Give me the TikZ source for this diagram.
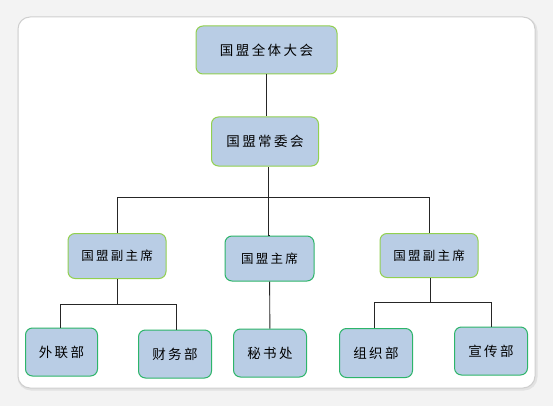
\documentclass[tikz,border=0pt]{standalone}
\usepackage{fontspec}
\newfontfamily\cjk[LetterSpace=18]{Noto Sans CJK SC}
\definecolor{boxfill}{HTML}{B9CDE5}
\definecolor{lightgreen}{HTML}{92D050}
\definecolor{darkgreen}{HTML}{2DB56A}
\definecolor{framegray}{HTML}{CFCFCF}
\definecolor{bggray}{HTML}{F3F3F3}
\tikzset{
  orgbox/.style={draw=#1, fill=boxfill, line width=1pt, rounded corners=7pt,
    inner sep=0pt, align=center, font=\cjk\fontsize{13.5}{15}\selectfont},
  link/.style={draw=black!85, line width=0.9pt},
}
\begin{document}
\begin{tikzpicture}[x=1pt,y=-1pt]
\useasboundingbox (0,0) rectangle (553,406);
\fill[bggray] (0,0) rectangle (553,406);
\draw[framegray!60, line width=3pt, rounded corners=12pt] (19,19) rectangle (536,389);
\draw[framegray, fill=white, line width=1pt, rounded corners=12pt] (18,17) rectangle (535,388);

\node[orgbox=lightgreen, minimum width=141pt, minimum height=48pt] (all) at (266.5,50) {国盟全体大会};
\node[orgbox=lightgreen, minimum width=107pt, minimum height=49pt] (standing) at (265,141.5) {国盟常委会};
\node[orgbox=lightgreen, minimum width=98pt, minimum height=45pt, font=\cjk\fontsize{12.5}{14}\selectfont] (vl) at (117,256) {国盟副主席};
\node[orgbox=darkgreen, minimum width=89pt, minimum height=45pt, font=\cjk\fontsize{12.5}{14}\selectfont] (chair) at (269.5,258.5) {国盟主席};
\node[orgbox=lightgreen, minimum width=98pt, minimum height=44pt, font=\cjk\fontsize{12.5}{14}\selectfont] (vr) at (429,255.5) {国盟副主席};

\node[orgbox=darkgreen, minimum width=72pt, minimum height=48pt] (wl) at (61.5,352) {外联部};
\node[orgbox=darkgreen, minimum width=73pt, minimum height=48pt] (cw) at (175,354) {财务部};
\node[orgbox=darkgreen, minimum width=73pt, minimum height=48pt] (ms) at (270,353) {秘书处};
\node[orgbox=darkgreen, minimum width=73pt, minimum height=49pt] (zz) at (376,353) {组织部};
\node[orgbox=darkgreen, minimum width=73pt, minimum height=48pt] (xc) at (491,351) {宣传部};

\coordinate (busL) at (117,197);
\coordinate (busR) at (429,197);
\coordinate (subL1) at (60,304);
\coordinate (subL2) at (176.5,304);
\coordinate (subR1) at (374.5,302);
\coordinate (subR2) at (491.5,302);

\draw[link] (all.south -| 266,0) -- (standing.north -| 266,0);
\draw[link] (vl.north) -- (busL) -- (busR) -- (vr.north);
\draw[link] (chair.north -| 268,0) -- (standing.south -| 268,0);
\draw[link] (chair.north -| 268,0) -- (chair.north);
\draw[link] (vl.south) -- (vl.south |- subL1);
\draw[link] (wl.north -| subL1) -- (subL1) -- (subL2) -- (cw.north -| subL2);
\draw[link] (chair) -- (ms);
\draw[link] (vr.south -| 430.5,0) -- (subR1 -| 430.5,0);
\draw[link] (zz.north -| subR1) -- (subR1) -- (subR2) -- (xc.north -| subR2);
\end{tikzpicture}
\end{document}
